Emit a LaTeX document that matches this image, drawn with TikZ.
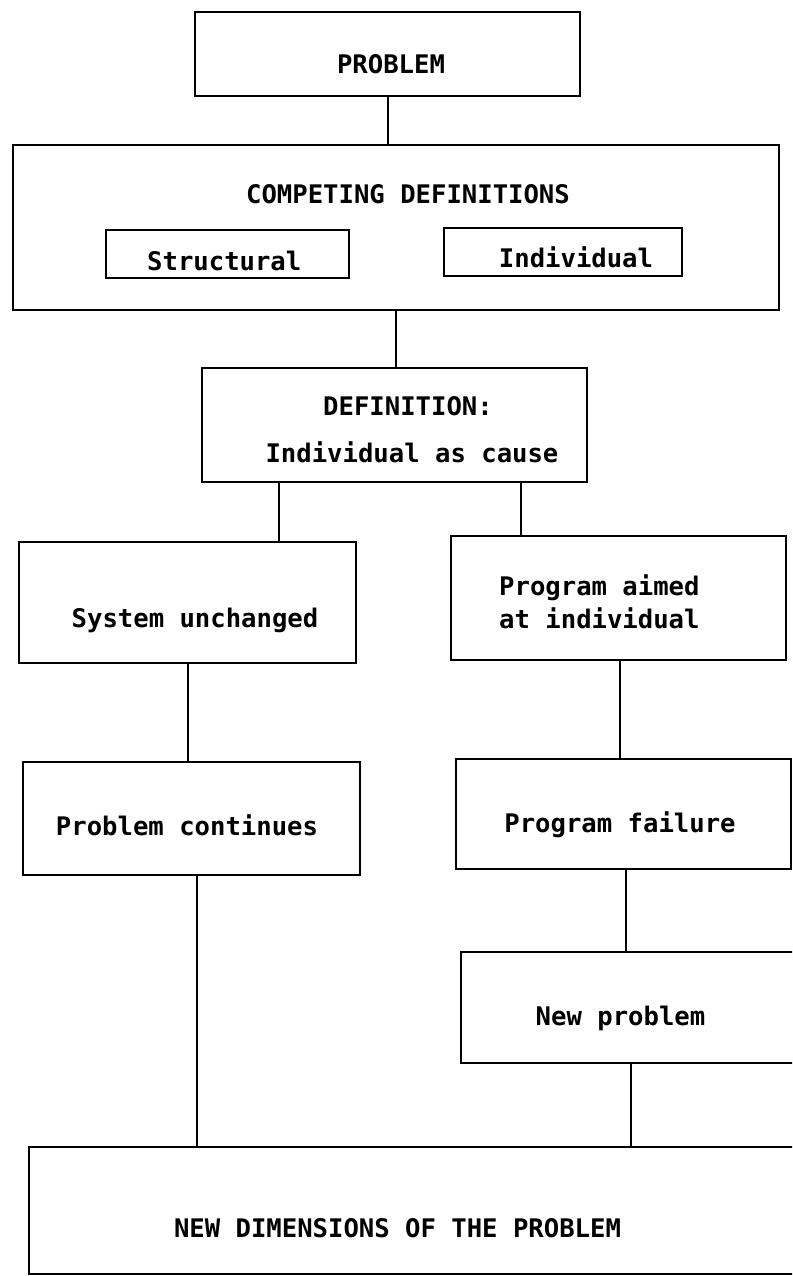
\documentclass[tikz,border=0pt]{standalone}
\usepackage{fontspec}
\setmonofont{DejaVu Sans Mono}
\begin{document}
\begin{tikzpicture}[x=1pt,y=-1pt,
  box/.style={draw, line width=2.7pt, inner sep=0pt},
  lbl/.style={font=\ttfamily\bfseries\fontsize{25.6}{30}\selectfont, inner sep=0pt, anchor=base},
  lblw/.style={lbl, anchor=base west},
  conn/.style={line width=2.5pt}]
\useasboundingbox (0,0) rectangle (792,1276);
\clip (0,0) rectangle (792,1276);
\fill[white] (0,0) rectangle (792,1276);

% boxes
\node[box, minimum width=385pt, minimum height=84pt]  (prob) at (387.5,54) {};
\node[box, minimum width=766pt, minimum height=165pt] (comp) at (396,227.5) {};
\node[box, minimum width=243pt, minimum height=48pt]  (struc) at (227.5,254) {};
\node[box, minimum width=238pt, minimum height=48pt]  (indiv) at (563,252) {};
\node[box, minimum width=385pt, minimum height=114pt] (defn) at (394.5,425) {};
\node[box, minimum width=337pt, minimum height=121pt] (sys) at (187.5,602.5) {};
\node[box, minimum width=335pt, minimum height=124pt] (prog) at (618.5,598) {};
\node[box, minimum width=337pt, minimum height=113pt] (cont) at (191.5,818.5) {};
\node[box, minimum width=335pt, minimum height=110pt] (fail) at (623.5,814) {};
\node[box, minimum width=359pt, minimum height=111pt] (newp) at (640.5,1007.5) {};
\node[box, minimum width=801pt, minimum height=127pt] (dims) at (429.5,1210.5) {};

% texts
\node[lbl]  (tprob) at (391,73.5) {PROBLEM};
\node[lbl]  (tcomp) at (408,204) {COMPETING DEFINITIONS};
\node[lblw] (tstruc) at (147,270) {Structural};
\node[lbl]  (tindiv) at (576,267) {Individual};
\node[lbl]  (tdef1) at (408,415) {DEFINITION:};
\node[lbl]  (tdef2) at (412,462) {Individual as cause};
\node[lbl]  (tsys) at (195,627) {System unchanged};
\node[lblw] (tprog1) at (499,595) {Program aimed};
\node[lblw] (tprog2) at (499,628) {at individual};
\node[lbl]  (tcont) at (187,835) {Problem continues};
\node[lbl]  (tfail) at (620,832) {Program failure};
\node[lbl]  (tnewp) at (620.5,1025) {New problem};
\node[lbl]  (tdims) at (397.5,1237) {NEW DIMENSIONS OF THE PROBLEM};

% connectors
\coordinate (c1) at (388,0);
\coordinate (c2) at (396,0);
\coordinate (c3) at (279,0);
\coordinate (c4) at (521,0);
\coordinate (c5) at (188,0);
\coordinate (c6) at (620,0);
\coordinate (c7) at (626,0);
\coordinate (c8) at (197,0);
\coordinate (c9) at (631,0);
\draw[conn] (prob.south -| c1) -- (comp.north -| c1);
\draw[conn] (comp.south -| c2) -- (defn.north -| c2);
\draw[conn] (defn.south -| c3) -- (sys.north -| c3);
\draw[conn] (defn.south -| c4) -- (prog.north -| c4);
\draw[conn] (sys.south -| c5) -- (cont.north -| c5);
\draw[conn] (prog.south -| c6) -- (fail.north -| c6);
\draw[conn] (fail.south -| c7) -- (newp.north -| c7);
\draw[conn] (cont.south -| c8) -- (dims.north -| c8);
\draw[conn] (newp.south -| c9) -- (dims.north -| c9);
\end{tikzpicture}
\end{document}
